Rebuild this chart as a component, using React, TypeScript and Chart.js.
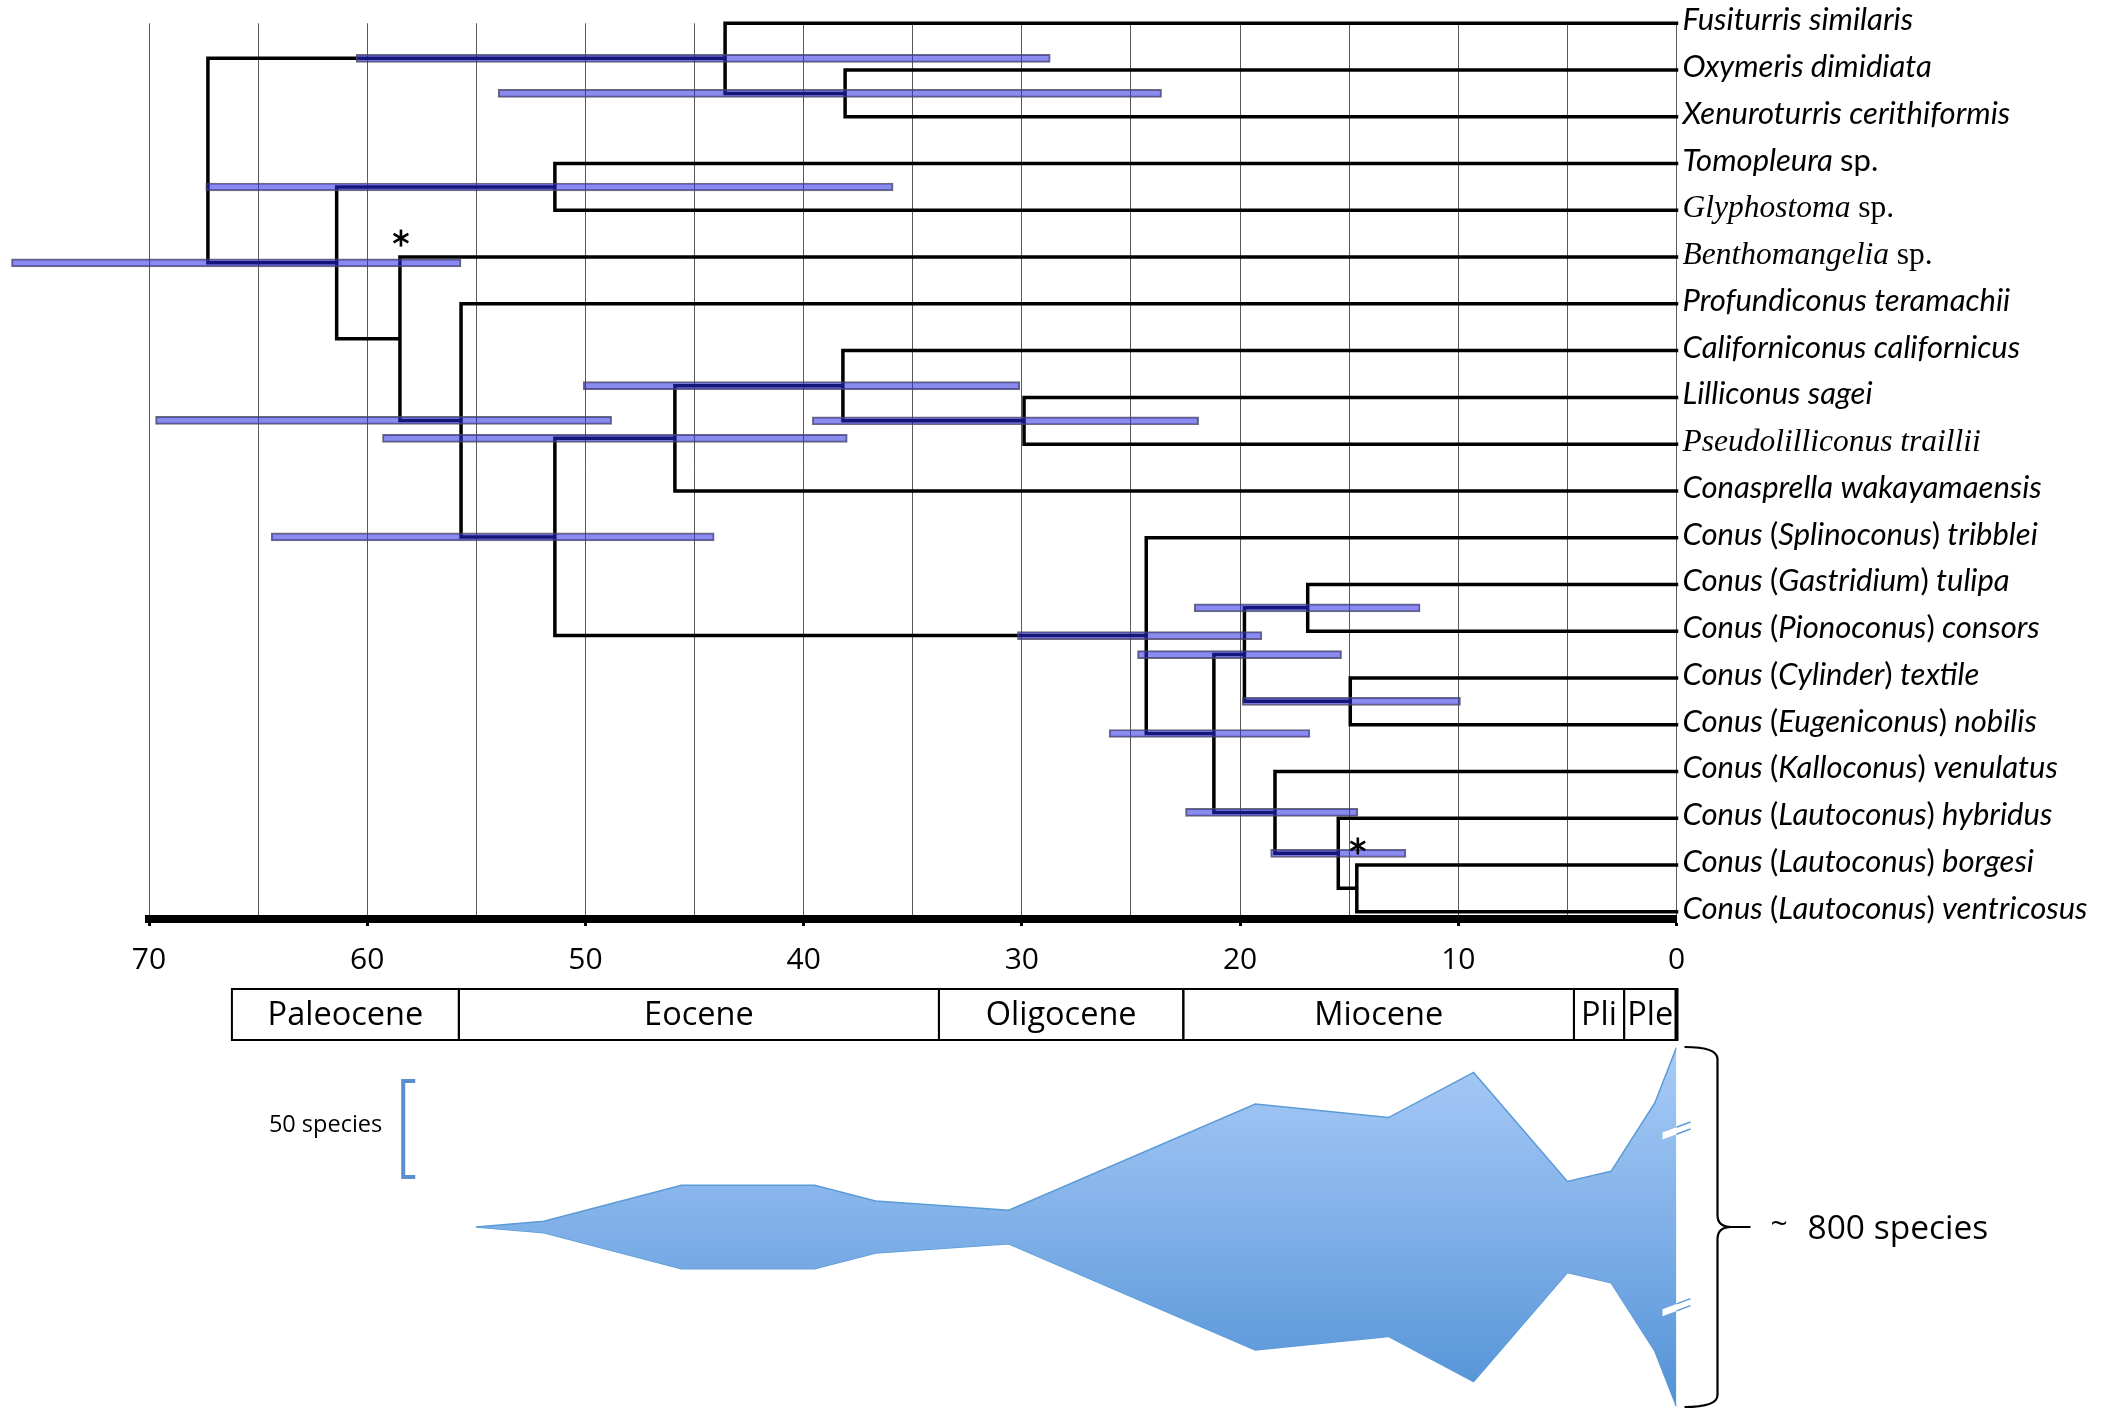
import { useEffect, useRef } from 'react';
import { Chart, registerables } from 'chart.js';
Chart.register(...registerables);
Chart.defaults.font.family = '"Open Sans"';
Chart.defaults.color = '#000';

// ---------------- DATA ----------------
const taxa = [
  'Fusiturris similaris',
  'Oxymeris dimidiata',
  'Xenuroturris cerithiformis',
  'Tomopleura sp.',
  'Glyphostoma sp.',
  'Benthomangelia sp.',
  'Profundiconus teramachii',
  'Californiconus californicus',
  'Lilliconus sagei',
  'Pseudolilliconus traillii',
  'Conasprella wakayamaensis',
  'Conus (Splinoconus) tribblei',
  'Conus (Gastridium) tulipa',
  'Conus (Pionoconus) consors',
  'Conus (Cylinder) textile',
  'Conus (Eugeniconus) nobilis',
  'Conus (Kalloconus) venulatus',
  'Conus (Lautoconus) hybridus',
  'Conus (Lautoconus) borgesi',
  'Conus (Lautoconus) ventricosus',
];
const serifTaxa = ['Glyphostoma sp.', 'Benthomangelia sp.', 'Pseudolilliconus traillii'];

// internal nodes: children are leaf indices (numbers) or node ids (strings)
const nodeIds = ['root', 'A', 'B', 'C', 'D', 'E', 'F', 'G', 'H', 'J', 'K', 'I', 'L', 'M', 'O', 'P', 'N', 'Q', 'R'];
const nodeChildren: (string | number)[][] = [
  ['A', 'C'], [0, 'B'], [1, 2], ['D', 'E'], [3, 4], [5, 'F'], [6, 'G'], ['H', 'I'], ['J', 10], [7, 'K'],
  [8, 9], [11, 'L'], ['M', 'N'], ['O', 'P'], [12, 13], [14, 15], [16, 'Q'], [17, 'R'], [18, 19],
];
const nodeAges = [67.3, 43.6, 38.1, 61.4, 51.4, 58.5, 55.7, 51.4, 45.9, 38.2, 29.9, 24.3, 21.2, 19.8, 16.9, 14.95, 18.4, 15.5, 14.65];
const ciOld = [null, 60.5, 54.0, 76.3, 67.4, null, 69.7, 64.4, 59.3, 50.1, 39.6, 30.2, 26.0, 24.7, 22.1, 19.9, 22.5, 18.6, null];
const ciYoung = [null, 28.7, 23.6, 55.7, 35.9, null, 48.8, 44.1, 38.0, 30.1, 21.9, 19.0, 16.8, 15.35, 11.75, 9.9, 14.6, 12.4, null];
const starredNodes = ['E', 'R'];

const axisTicks = [70, 60, 50, 40, 30, 20, 10, 0];
const epochNames = ['Paleocene', 'Eocene', 'Oligocene', 'Miocene', 'Pli', 'Ple'];
const epochOld = [66.2, 55.8, 33.8, 22.6, 4.7, 2.4];
const epochYoung = [55.8, 33.8, 22.6, 4.7, 2.4, 0];

// diversity through time (species, full width of the spindle)
const divAges = [55.0, 51.9, 45.6, 39.5, 36.7, 30.6, 19.3, 13.2, 9.3, 5.0, 3.0, 1.0, 0];
const divSpecies = [0, 6, 43.5, 43.5, 27, 17.4, 128, 114, 161, 47.4, 58, 129, 187];
const scaleBarSpecies = 50;
const scaleBarTop = 76;
const scaleBarAge = 58.35;
const breakMarks = [50, -42];
const presentDayLabel = '800 species';

// ---------------- helpers ----------------
const idx = (id: string) => nodeIds.indexOf(id);
function rowOf(ref: string | number): number {
  if (typeof ref === 'number') return ref;
  const [a, b] = nodeChildren[idx(ref)];
  return (rowOf(a) + rowOf(b)) / 2;
}
function ageOf(ref: string | number): number {
  return typeof ref === 'number' ? 0 : nodeAges[idx(ref)];
}

const treePoints: { x: number; y: number | null }[] = [];
nodeIds.forEach((id, k) => {
  const [a, b] = nodeChildren[k];
  const t = nodeAges[k];
  treePoints.push(
    { x: ageOf(a), y: rowOf(a) },
    { x: t, y: rowOf(a) },
    { x: t, y: rowOf(b) },
    { x: ageOf(b), y: rowOf(b) },
    { x: t, y: null },
  );
});
const ciBars = nodeIds
  .map((id, k) => (ciOld[k] == null ? null : { x: [ciYoung[k] as number, ciOld[k] as number], y: rowOf(id) }))
  .filter(Boolean);

const ROW_MAX = 19.155;
const LEFT = 149;
const RIGHT = 2117 - 1676.5;

function drawTaxon(ctx: CanvasRenderingContext2D, label: string, x: number, y: number) {
  const serif = serifTaxa.includes(label);
  const fam = serif ? '"Liberation Serif"' : 'Lato';
  const size = serif ? 31.5 : 31;
  const toks = label.split(/(\s+|\(|\))/).filter((s) => s.length > 0);
  let cx = x;
  for (const tok of toks) {
    const upright = tok === 'sp.' || tok === '(' || tok === ')';
    ctx.font = `${upright ? '' : 'italic '}${size}px ${fam}`;
    ctx.fillText(tok, cx, y);
    cx += ctx.measureText(tok).width;
  }
}

function drawAsterisk(ctx: CanvasRenderingContext2D, x: number, y: number, r: number) {
  ctx.save();
  ctx.strokeStyle = '#000';
  ctx.lineWidth = 2.6;
  ctx.lineCap = 'butt';
  for (const ang of [90, 30, 150]) {
    const a = (ang * Math.PI) / 180;
    ctx.beginPath();
    ctx.moveTo(x - r * Math.cos(a), y - r * Math.sin(a));
    ctx.lineTo(x + r * Math.cos(a), y + r * Math.sin(a));
    ctx.stroke();
  }
  ctx.restore();
}

const treeDecor = {
  id: 'treeDecor',
  afterDraw(chart: any) {
    const { ctx, chartArea, scales } = chart;
    const xs = scales.x;
    const ys = scales.y;
    ctx.save();
    ctx.fillStyle = '#000';
    ctx.textBaseline = 'alphabetic';
    ctx.textAlign = 'left';
    taxa.forEach((name, i) => drawTaxon(ctx, name, chartArea.right + 6, ys.getPixelForValue(i) + 7));

    starredNodes.forEach((id) => {
      const k = idx(id);
      const [a, b] = nodeChildren[k];
      const topRow = Math.min(rowOf(a), rowOf(b));
      drawAsterisk(ctx, xs.getPixelForValue(nodeAges[k]) + 1, ys.getPixelForValue(topRow) - 19, 8.5);
    });

    // epoch boxes
    const top = chartArea.bottom + 70;
    const bot = chartArea.bottom + 121;
    ctx.strokeStyle = '#000';
    ctx.lineWidth = 2;
    ctx.font = '32.5px "Open Sans"';
    ctx.textAlign = 'center';
    ctx.textBaseline = 'middle';
    epochNames.forEach((nm, i) => {
      const x0 = xs.getPixelForValue(epochOld[i]);
      const x1 = xs.getPixelForValue(epochYoung[i]);
      ctx.strokeRect(x0, top, x1 - x0, bot - top);
      ctx.fillText(nm, (x0 + x1) / 2, (top + bot) / 2 + 1);
    });
    ctx.lineWidth = 4;
    ctx.beginPath();
    const xr = xs.getPixelForValue(0);
    ctx.moveTo(xr, top - 1);
    ctx.lineTo(xr, bot + 1);
    ctx.stroke();
    ctx.restore();
  },
};

const divDecor = {
  id: 'divDecor',
  afterDatasetsDraw(chart: any) {
    const { ctx, scales } = chart;
    const xs = scales.x;
    const ys = scales.y;
    const xc = xs.getPixelForValue(0);
    ctx.save();
    breakMarks.forEach((v) => {
      const yc = ys.getPixelForValue(v);
      ctx.beginPath();
      ctx.moveTo(xc - 14, yc + 1.5);
      ctx.lineTo(xc + 14, yc - 9);
      ctx.lineTo(xc + 14, yc - 2);
      ctx.lineTo(xc - 14, yc + 8.5);
      ctx.closePath();
      ctx.fillStyle = '#fff';
      ctx.fill();
      ctx.strokeStyle = '#5b9bd5';
      ctx.lineWidth = 1.5;
      ctx.beginPath();
      ctx.moveTo(xc, yc - 3.8);
      ctx.lineTo(xc + 14, yc - 9);
      ctx.moveTo(xc, yc + 3.2);
      ctx.lineTo(xc + 14, yc - 2);
      ctx.stroke();
    });
    ctx.restore();
  },
  afterDraw(chart: any) {
    const { ctx, chartArea, scales } = chart;
    const xs = scales.x;
    const ys = scales.y;
    ctx.save();
    // scale-bar label
    ctx.fillStyle = '#000';
    ctx.font = '23.5px "Open Sans"';
    ctx.textAlign = 'right';
    ctx.textBaseline = 'middle';
    const yMid = (ys.getPixelForValue(scaleBarTop) + ys.getPixelForValue(scaleBarTop - scaleBarSpecies)) / 2;
    ctx.fillText(`${scaleBarSpecies} species`, xs.getPixelForValue(scaleBarAge) - 21, yMid - 4);

    // brace
    const y0 = chartArea.top;
    const y1 = chartArea.bottom;
    const ym = ys.getPixelForValue(0);
    const xL = chartArea.right + 8;
    const xV = chartArea.right + 41;
    const xP = chartArea.right + 74;
    ctx.strokeStyle = '#000';
    ctx.lineWidth = 2.2;
    ctx.beginPath();
    ctx.moveTo(xL, y0);
    ctx.quadraticCurveTo(xV, y0, xV, y0 + 12);
    ctx.lineTo(xV, ym - 12);
    ctx.quadraticCurveTo(xV, ym, xV + 14, ym);
    ctx.lineTo(xP, ym);
    ctx.moveTo(xV + 14, ym);
    ctx.quadraticCurveTo(xV, ym, xV, ym + 12);
    ctx.lineTo(xV, y1 - 12);
    ctx.quadraticCurveTo(xV, y1, xL, y1);
    ctx.stroke();

    ctx.textAlign = 'left';
    ctx.textBaseline = 'alphabetic';
    ctx.font = '30px "Open Sans"';
    ctx.fillText('~', chartArea.right + 94, ym + 7);
    ctx.font = '33.5px "Open Sans"';
    ctx.fillText(presentDayLabel, chartArea.right + 131, ym + 12);
    ctx.restore();
  },
};

export default function App() {
  const ref1 = useRef<HTMLCanvasElement>(null);
  const ref2 = useRef<HTMLCanvasElement>(null);
  useEffect(() => {
    const c1 = new Chart(ref1.current as HTMLCanvasElement, {
      type: 'line',
      data: {
        datasets: [
          {
            type: 'bar',
            label: 'CI',
            data: ciBars as any,
            indexAxis: 'y',
            xAxisID: 'x',
            yAxisID: 'y',
            backgroundColor: 'rgba(40,40,225,0.54)',
            borderColor: 'rgba(70,70,90,0.8)',
            borderWidth: 1.3,
            barThickness: 8,
            borderSkipped: false,
            clip: false,
            order: 0,
          } as any,
          {
            type: 'line',
            label: 'tree',
            data: treePoints as any,
            borderColor: '#000',
            borderWidth: 3.5,
            pointRadius: 0,
            tension: 0,
            spanGaps: false,
            borderJoinStyle: 'miter',
            borderCapStyle: 'square',
            clip: false,
            order: 1,
          } as any,
        ],
      },
      options: {
        responsive: false,
        animation: false,
        devicePixelRatio: 1,
        events: [],
        layout: { padding: { left: LEFT, right: RIGHT, top: 23.3, bottom: 430 } },
        plugins: { legend: { display: false }, tooltip: { enabled: false } },
        scales: {
          x: {
            type: 'linear',
            min: 0,
            max: 70,
            reverse: true,
            offset: false,
            position: 'bottom',
            afterFit: (s: any) => {
              s.height = 60;
            },
            ticks: {
              stepSize: 5,
              autoSkip: false,
              maxRotation: 0,
              color: '#000',
              padding: 16,
              font: { family: '"Open Sans"', size: 30 },
              callback: (v: any) => (axisTicks.includes(Number(v)) ? String(v) : ''),
            },
            grid: {
              offset: false,
              color: '#5a5a5a',
              lineWidth: 1,
              drawTicks: true,
              tickLength: 7,
              tickWidth: 3,
              tickColor: (c: any) => (c.tick && axisTicks.includes(c.tick.value) ? '#000' : 'rgba(0,0,0,0)'),
            },
            border: { display: true, color: '#000', width: 8 },
          },
          y: { type: 'linear', min: 0, max: ROW_MAX, reverse: true, offset: false, grid: { offset: false }, display: false },
        },
      } as any,
      plugins: [treeDecor],
    });

    const upper = divAges.map((t, i) => ({ x: t, y: divSpecies[i] / 2 }));
    const lower = divAges.map((t, i) => ({ x: t, y: -divSpecies[i] / 2 }));
    const bracket = [
      { x: scaleBarAge - 0.55, y: scaleBarTop },
      { x: scaleBarAge, y: scaleBarTop },
      { x: scaleBarAge, y: scaleBarTop - scaleBarSpecies },
      { x: scaleBarAge - 0.55, y: scaleBarTop - scaleBarSpecies },
    ];
    const c2 = new Chart(ref2.current as HTMLCanvasElement, {
      type: 'line',
      data: {
        datasets: [
          {
            label: 'diversity upper',
            data: upper,
            borderColor: '#5b9bd5',
            borderWidth: 1.5,
            pointRadius: 0,
            tension: 0,
            fill: '+1',
            backgroundColor: (c: any) => {
              const area = c.chart.chartArea;
              if (!area) return '#80b0e8';
              const g = c.chart.ctx.createLinearGradient(0, area.top, 0, area.bottom);
              g.addColorStop(0, '#a8cbf7');
              g.addColorStop(0.5, '#80b0e8');
              g.addColorStop(1, '#5292d6');
              return g;
            },
          },
          {
            label: 'diversity lower',
            data: lower,
            borderColor: '#5b9bd5',
            borderWidth: 1.5,
            pointRadius: 0,
            tension: 0,
            fill: false,
          },
          {
            label: 'scale bar',
            data: bracket,
            borderColor: '#5b8ed0',
            borderWidth: 4,
            pointRadius: 0,
            tension: 0,
            fill: false,
            borderJoinStyle: 'miter',
          } as any,
        ],
      },
      options: {
        responsive: false,
        animation: false,
        devicePixelRatio: 1,
        events: [],
        layout: { padding: { left: LEFT, right: RIGHT, top: 1047, bottom: 2 } },
        plugins: { legend: { display: false }, tooltip: { enabled: false } },
        scales: {
          x: { type: 'linear', min: 0, max: 70, reverse: true, display: false },
          y: { type: 'linear', min: -93.75, max: 93.75, display: false },
        },
      } as any,
      plugins: [divDecor],
    });
    return () => {
      c1.destroy();
      c2.destroy();
    };
  }, []);
  return (
    <div style={{ position: 'absolute', left: 0, top: 0, width: 2117, height: 1409, background: '#fff' }}>
      <canvas ref={ref1} width={2117} height={1409} style={{ position: 'absolute', left: 0, top: 0, width: 2117, height: 1409 }} />
      <canvas ref={ref2} width={2117} height={1409} style={{ position: 'absolute', left: 0, top: 0, width: 2117, height: 1409 }} />
    </div>
  );
}
